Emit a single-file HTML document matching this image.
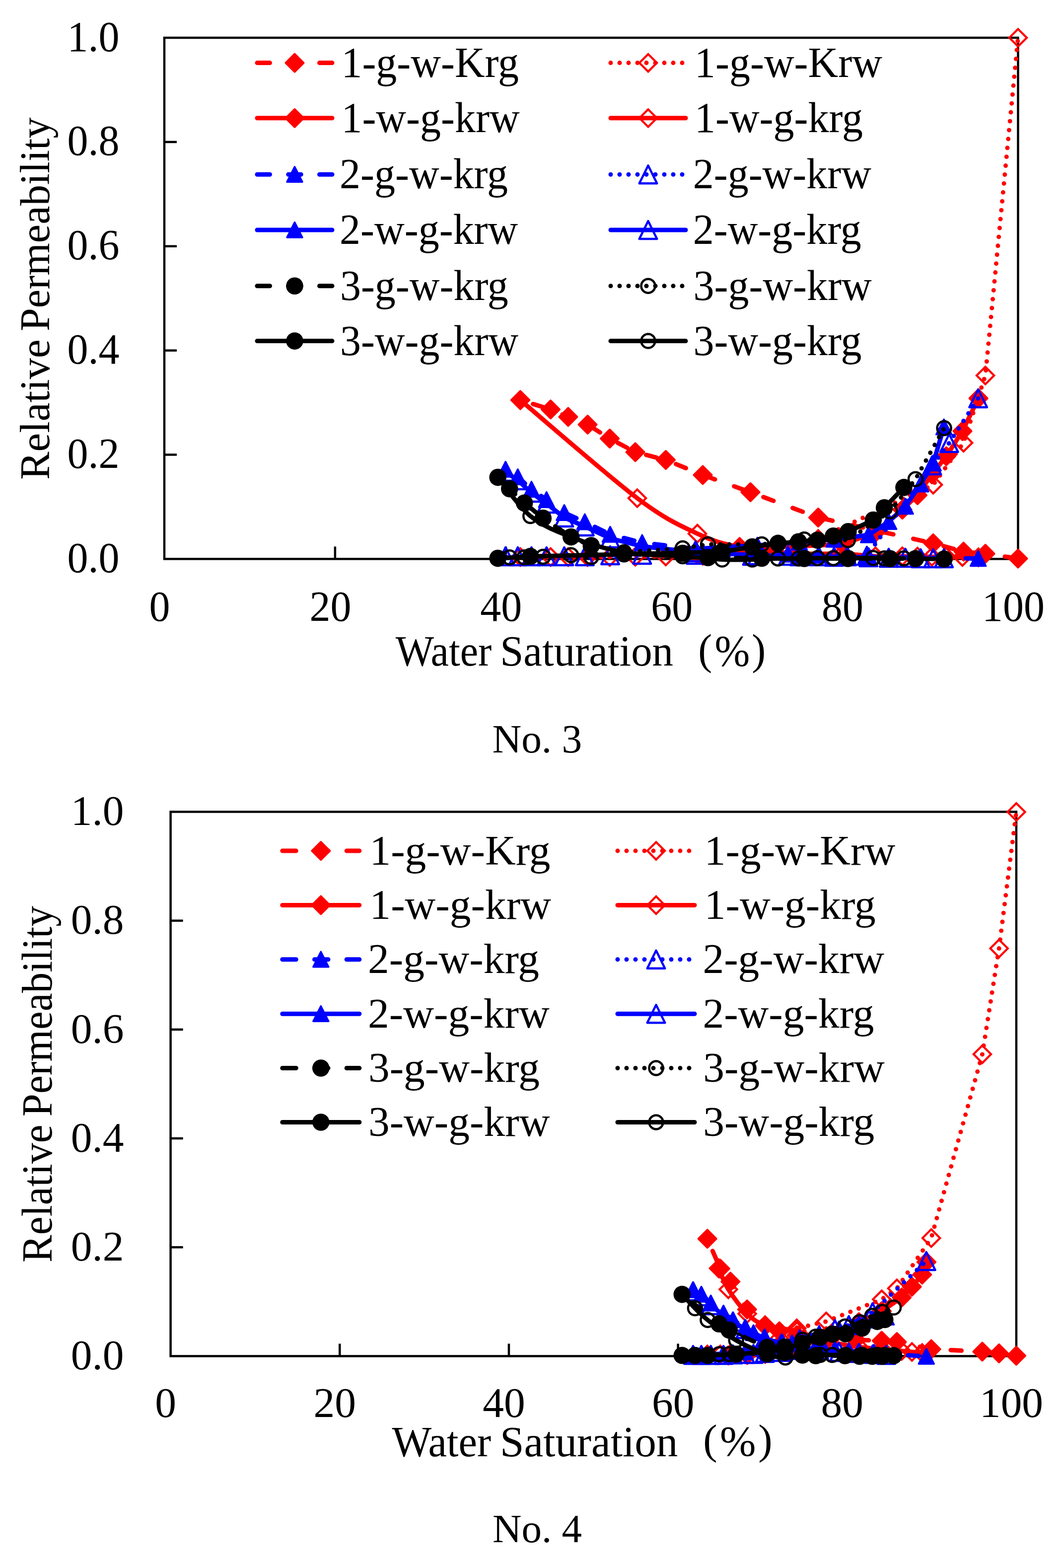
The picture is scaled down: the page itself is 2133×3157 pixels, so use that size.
<!DOCTYPE html><html><head><meta charset="utf-8"><style>html,body{margin:0;padding:0;background:#fff}svg{display:block}</style></head><body>
<svg width="2133" height="3157" viewBox="0 0 2133 3157" font-family="Liberation Serif, Times New Roman, serif">
<rect width="2133" height="3157" fill="#fff"/>
<rect x="331.00" y="76.00" width="1719.50" height="1049.40" fill="none" stroke="#000" stroke-width="4.50"/>
<path d="M331.00 915.52H356.00" stroke="#000" stroke-width="4.50"/>
<path d="M331.00 705.64H356.00" stroke="#000" stroke-width="4.50"/>
<path d="M331.00 495.76H356.00" stroke="#000" stroke-width="4.50"/>
<path d="M331.00 285.88H356.00" stroke="#000" stroke-width="4.50"/>
<path d="M674.90 1125.40V1100.40" stroke="#000" stroke-width="4.50"/>
<path d="M1018.80 1125.40V1100.40" stroke="#000" stroke-width="4.50"/>
<path d="M1362.70 1125.40V1100.40" stroke="#000" stroke-width="4.50"/>
<path d="M1706.60 1125.40V1100.40" stroke="#000" stroke-width="4.50"/>
<text transform="translate(240.50,102.60) scale(1.0000,1.0300)" font-size="84.00" text-anchor="end">1.0</text>
<text transform="translate(240.50,312.48) scale(1.0000,1.0300)" font-size="84.00" text-anchor="end">0.8</text>
<text transform="translate(240.50,522.36) scale(1.0000,1.0300)" font-size="84.00" text-anchor="end">0.6</text>
<text transform="translate(240.50,732.24) scale(1.0000,1.0300)" font-size="84.00" text-anchor="end">0.4</text>
<text transform="translate(240.50,942.12) scale(1.0000,1.0300)" font-size="84.00" text-anchor="end">0.2</text>
<text transform="translate(240.50,1152.00) scale(1.0000,1.0300)" font-size="84.00" text-anchor="end">0.0</text>
<text transform="translate(321.50,1250.00) scale(1.0000,1.0300)" font-size="84.00" text-anchor="middle">0</text>
<text transform="translate(665.40,1250.00) scale(1.0000,1.0300)" font-size="84.00" text-anchor="middle">20</text>
<text transform="translate(1009.30,1250.00) scale(1.0000,1.0300)" font-size="84.00" text-anchor="middle">40</text>
<text transform="translate(1353.20,1250.00) scale(1.0000,1.0300)" font-size="84.00" text-anchor="middle">60</text>
<text transform="translate(1697.10,1250.00) scale(1.0000,1.0300)" font-size="84.00" text-anchor="middle">80</text>
<text transform="translate(2041.00,1250.00) scale(1.0000,1.0300)" font-size="84.00" text-anchor="middle">100</text>
<text transform="translate(796.70,1339.60) scale(1.0000,1.0650)" font-size="82.00" text-anchor="start">Water</text>
<text transform="translate(1007.16,1339.60) scale(1.0000,1.0330)" font-size="84.90" text-anchor="start">Saturation</text>
<text transform="translate(1406.30,1336.60) scale(1.0000,1.0400)" font-size="84.00" text-anchor="start">(</text>
<text transform="translate(1439.40,1339.60) scale(1.0000,1.0400)" font-size="85.00" text-anchor="start">%</text>
<text transform="translate(1514.30,1336.60) scale(1.0000,1.0400)" font-size="84.00" text-anchor="start">)</text>
<text transform="translate(98.80,966.00) rotate(-90) scale(1.0000,1.0100)" font-size="84.80">Relative</text>
<text transform="translate(98.80,667.10) rotate(-90) scale(1.0000,1.0100)" font-size="84.30">Permeability</text>
<text transform="translate(991.40,1515.00) scale(1.0000,1.0000)" font-size="81.40" text-anchor="start">No. 3</text>
<path d="M518.0 126.6L669.0 126.6" stroke="#ff0000" stroke-width="9" stroke-linecap="round" stroke-dasharray="25.5 37.25"/>
<path d="M593.5 108.6l18.0 18.0l-18.0 18.0l-18.0 -18.0z" fill="#ff0000" stroke="#ff0000" stroke-width="4" stroke-linejoin="round"/>
<text transform="translate(687.40,154.60) scale(1.0000,1.0300)" font-size="84.00" text-anchor="start">1-g-w-Krg</text>
<path d="M1230.0 126.6L1381.0 126.6" stroke="#ff0000" stroke-width="9" stroke-linecap="round" stroke-dasharray="0 18"/>
<path d="M1305.5 109.0l17.6 17.6l-17.6 17.6l-17.6 -17.6z" fill="none" stroke="#ff0000" stroke-width="4.2" stroke-linejoin="miter"/>
<text transform="translate(1399.00,154.60) scale(1.0000,1.0300)" font-size="84.00" text-anchor="start">1-g-w-Krw</text>
<path d="M518.0 237.8L669.0 237.8" stroke="#ff0000" stroke-width="9" stroke-linecap="round"/>
<path d="M593.5 219.8l18.0 18.0l-18.0 18.0l-18.0 -18.0z" fill="#ff0000" stroke="#ff0000" stroke-width="4" stroke-linejoin="round"/>
<text transform="translate(687.40,265.80) scale(1.0000,1.0300)" font-size="84.00" text-anchor="start">1-w-g-krw</text>
<path d="M1230.0 237.8L1381.0 237.8" stroke="#ff0000" stroke-width="9" stroke-linecap="round"/>
<path d="M1305.5 220.2l17.6 17.6l-17.6 17.6l-17.6 -17.6z" fill="none" stroke="#ff0000" stroke-width="4.2" stroke-linejoin="miter"/>
<text transform="translate(1399.00,265.80) scale(1.0000,1.0300)" font-size="84.00" text-anchor="start">1-w-g-krg</text>
<path d="M518.0 351.3L669.0 351.3" stroke="#0000ff" stroke-width="9" stroke-linecap="round" stroke-dasharray="25.5 37.25"/>
<path d="M593.5 335.8L609.0 366.3L578.0 366.3z" fill="#0000ff" stroke="#0000ff" stroke-width="3.5" stroke-linejoin="round"/>
<text transform="translate(684.10,379.30) scale(1.0000,1.0300)" font-size="84.00" text-anchor="start">2-g-w-krg</text>
<path d="M1230.0 351.3L1381.0 351.3" stroke="#0000ff" stroke-width="9" stroke-linecap="round" stroke-dasharray="0 18"/>
<path d="M1305.5 333.3L1323.3 369.3L1287.7 369.3z" fill="none" stroke="#0000ff" stroke-width="4.4" stroke-linejoin="round"/>
<text transform="translate(1395.70,379.30) scale(1.0000,1.0300)" font-size="84.00" text-anchor="start">2-g-w-krw</text>
<path d="M518.0 463.0L669.0 463.0" stroke="#0000ff" stroke-width="9" stroke-linecap="round"/>
<path d="M593.5 447.5L609.0 478.0L578.0 478.0z" fill="#0000ff" stroke="#0000ff" stroke-width="3.5" stroke-linejoin="round"/>
<text transform="translate(684.10,491.00) scale(1.0000,1.0300)" font-size="84.00" text-anchor="start">2-w-g-krw</text>
<path d="M1230.0 463.0L1381.0 463.0" stroke="#0000ff" stroke-width="9" stroke-linecap="round"/>
<path d="M1305.5 445.0L1323.3 481.0L1287.7 481.0z" fill="none" stroke="#0000ff" stroke-width="4.4" stroke-linejoin="round"/>
<text transform="translate(1395.70,491.00) scale(1.0000,1.0300)" font-size="84.00" text-anchor="start">2-w-g-krg</text>
<path d="M518.0 575.8L669.0 575.8" stroke="#000000" stroke-width="9" stroke-linecap="round" stroke-dasharray="25.5 37.25"/>
<circle cx="593.5" cy="575.8" r="17.3" fill="#000000"/>
<text transform="translate(684.90,603.80) scale(1.0000,1.0300)" font-size="84.00" text-anchor="start">3-g-w-krg</text>
<path d="M1230.0 575.8L1381.0 575.8" stroke="#000000" stroke-width="9" stroke-linecap="round" stroke-dasharray="0 18"/>
<circle cx="1305.5" cy="575.8" r="14" fill="none" stroke="#000000" stroke-width="4.5"/>
<text transform="translate(1396.50,603.80) scale(1.0000,1.0300)" font-size="84.00" text-anchor="start">3-g-w-krw</text>
<path d="M518.0 686.6L669.0 686.6" stroke="#000000" stroke-width="9" stroke-linecap="round"/>
<circle cx="593.5" cy="686.6" r="17.3" fill="#000000"/>
<text transform="translate(684.90,714.60) scale(1.0000,1.0300)" font-size="84.00" text-anchor="start">3-w-g-krw</text>
<path d="M1230.0 686.6L1381.0 686.6" stroke="#000000" stroke-width="9" stroke-linecap="round"/>
<circle cx="1305.5" cy="686.6" r="14" fill="none" stroke="#000000" stroke-width="4.5"/>
<text transform="translate(1396.50,714.60) scale(1.0000,1.0300)" font-size="84.00" text-anchor="start">3-w-g-krg</text>
<path d="M1048.0 805.5 L1109.0 824.3 L1144.4 839.4 L1183.6 854.8 L1228.1 883.0 L1279.6 910.3 L1341.0 926.0 L1415.5 956.3 L1511.5 991.0 L1648.0 1042.0 L1879.6 1093.8 L1940.7 1110.6 L1984.7 1114.8 L2050.5 1124.6" fill="none" stroke="#ff0000" stroke-width="9" stroke-linecap="round" stroke-linejoin="round" stroke-dasharray="21.7 41.1" stroke-dashoffset="36"/>
<path d="M1048.0 787.5l18.0 18.0l-18.0 18.0l-18.0 -18.0z" fill="#ff0000" stroke="#ff0000" stroke-width="4" stroke-linejoin="round"/>
<path d="M1109.0 806.3l18.0 18.0l-18.0 18.0l-18.0 -18.0z" fill="#ff0000" stroke="#ff0000" stroke-width="4" stroke-linejoin="round"/>
<path d="M1144.4 821.4l18.0 18.0l-18.0 18.0l-18.0 -18.0z" fill="#ff0000" stroke="#ff0000" stroke-width="4" stroke-linejoin="round"/>
<path d="M1183.6 836.8l18.0 18.0l-18.0 18.0l-18.0 -18.0z" fill="#ff0000" stroke="#ff0000" stroke-width="4" stroke-linejoin="round"/>
<path d="M1228.1 865.0l18.0 18.0l-18.0 18.0l-18.0 -18.0z" fill="#ff0000" stroke="#ff0000" stroke-width="4" stroke-linejoin="round"/>
<path d="M1279.6 892.3l18.0 18.0l-18.0 18.0l-18.0 -18.0z" fill="#ff0000" stroke="#ff0000" stroke-width="4" stroke-linejoin="round"/>
<path d="M1341.0 908.0l18.0 18.0l-18.0 18.0l-18.0 -18.0z" fill="#ff0000" stroke="#ff0000" stroke-width="4" stroke-linejoin="round"/>
<path d="M1415.5 938.3l18.0 18.0l-18.0 18.0l-18.0 -18.0z" fill="#ff0000" stroke="#ff0000" stroke-width="4" stroke-linejoin="round"/>
<path d="M1511.5 973.0l18.0 18.0l-18.0 18.0l-18.0 -18.0z" fill="#ff0000" stroke="#ff0000" stroke-width="4" stroke-linejoin="round"/>
<path d="M1648.0 1024.0l18.0 18.0l-18.0 18.0l-18.0 -18.0z" fill="#ff0000" stroke="#ff0000" stroke-width="4" stroke-linejoin="round"/>
<path d="M1879.6 1075.8l18.0 18.0l-18.0 18.0l-18.0 -18.0z" fill="#ff0000" stroke="#ff0000" stroke-width="4" stroke-linejoin="round"/>
<path d="M1940.7 1092.6l18.0 18.0l-18.0 18.0l-18.0 -18.0z" fill="#ff0000" stroke="#ff0000" stroke-width="4" stroke-linejoin="round"/>
<path d="M1984.7 1096.8l18.0 18.0l-18.0 18.0l-18.0 -18.0z" fill="#ff0000" stroke="#ff0000" stroke-width="4" stroke-linejoin="round"/>
<path d="M2050.5 1106.6l18.0 18.0l-18.0 18.0l-18.0 -18.0z" fill="#ff0000" stroke="#ff0000" stroke-width="4" stroke-linejoin="round"/>
<path d="M1048.0 1121.5 L1109.0 1121.5 L1144.4 1121.5 L1183.6 1121.5 L1228.1 1121.5 L1279.6 1121.0 L1341.0 1120.5 L1415.5 1119.0 L1511.5 1112.0 L1648.0 1085.0 L1879.6 976.0 L1940.7 891.4 L1984.7 756.0 L2050.5 76.0" fill="none" stroke="#ff0000" stroke-width="9" stroke-linecap="round" stroke-linejoin="round" stroke-dasharray="0 18"/>
<path d="M1048.0 1103.9l17.6 17.6l-17.6 17.6l-17.6 -17.6z" fill="none" stroke="#ff0000" stroke-width="4.2" stroke-linejoin="miter"/>
<path d="M1109.0 1103.9l17.6 17.6l-17.6 17.6l-17.6 -17.6z" fill="none" stroke="#ff0000" stroke-width="4.2" stroke-linejoin="miter"/>
<path d="M1144.4 1103.9l17.6 17.6l-17.6 17.6l-17.6 -17.6z" fill="none" stroke="#ff0000" stroke-width="4.2" stroke-linejoin="miter"/>
<path d="M1183.6 1103.9l17.6 17.6l-17.6 17.6l-17.6 -17.6z" fill="none" stroke="#ff0000" stroke-width="4.2" stroke-linejoin="miter"/>
<path d="M1228.1 1103.9l17.6 17.6l-17.6 17.6l-17.6 -17.6z" fill="none" stroke="#ff0000" stroke-width="4.2" stroke-linejoin="miter"/>
<path d="M1279.6 1103.4l17.6 17.6l-17.6 17.6l-17.6 -17.6z" fill="none" stroke="#ff0000" stroke-width="4.2" stroke-linejoin="miter"/>
<path d="M1341.0 1102.9l17.6 17.6l-17.6 17.6l-17.6 -17.6z" fill="none" stroke="#ff0000" stroke-width="4.2" stroke-linejoin="miter"/>
<path d="M1415.5 1101.4l17.6 17.6l-17.6 17.6l-17.6 -17.6z" fill="none" stroke="#ff0000" stroke-width="4.2" stroke-linejoin="miter"/>
<path d="M1511.5 1094.4l17.6 17.6l-17.6 17.6l-17.6 -17.6z" fill="none" stroke="#ff0000" stroke-width="4.2" stroke-linejoin="miter"/>
<path d="M1648.0 1067.4l17.6 17.6l-17.6 17.6l-17.6 -17.6z" fill="none" stroke="#ff0000" stroke-width="4.2" stroke-linejoin="miter"/>
<path d="M1879.6 958.4l17.6 17.6l-17.6 17.6l-17.6 -17.6z" fill="none" stroke="#ff0000" stroke-width="4.2" stroke-linejoin="miter"/>
<path d="M1940.7 873.8l17.6 17.6l-17.6 17.6l-17.6 -17.6z" fill="none" stroke="#ff0000" stroke-width="4.2" stroke-linejoin="miter"/>
<path d="M1984.7 738.4l17.6 17.6l-17.6 17.6l-17.6 -17.6z" fill="none" stroke="#ff0000" stroke-width="4.2" stroke-linejoin="miter"/>
<path d="M2050.5 58.4l17.6 17.6l-17.6 17.6l-17.6 -17.6z" fill="none" stroke="#ff0000" stroke-width="4.2" stroke-linejoin="miter"/>
<path d="M1404.6 1116.0 L1489.7 1101.4 L1600.0 1100.0 L1697.0 1096.0 L1763.4 1072.0 L1817.5 1026.0 L1848.0 997.0 L1877.0 955.0 L1906.0 918.6 L1938.5 868.0 L1970.7 802.0" fill="none" stroke="#ff0000" stroke-width="9" stroke-linecap="round" stroke-linejoin="round"/>
<path d="M1404.6 1098.0l18.0 18.0l-18.0 18.0l-18.0 -18.0z" fill="#ff0000" stroke="#ff0000" stroke-width="4" stroke-linejoin="round"/>
<path d="M1489.7 1083.4l18.0 18.0l-18.0 18.0l-18.0 -18.0z" fill="#ff0000" stroke="#ff0000" stroke-width="4" stroke-linejoin="round"/>
<path d="M1600.0 1082.0l18.0 18.0l-18.0 18.0l-18.0 -18.0z" fill="#ff0000" stroke="#ff0000" stroke-width="4" stroke-linejoin="round"/>
<path d="M1697.0 1078.0l18.0 18.0l-18.0 18.0l-18.0 -18.0z" fill="#ff0000" stroke="#ff0000" stroke-width="4" stroke-linejoin="round"/>
<path d="M1763.4 1054.0l18.0 18.0l-18.0 18.0l-18.0 -18.0z" fill="#ff0000" stroke="#ff0000" stroke-width="4" stroke-linejoin="round"/>
<path d="M1817.5 1008.0l18.0 18.0l-18.0 18.0l-18.0 -18.0z" fill="#ff0000" stroke="#ff0000" stroke-width="4" stroke-linejoin="round"/>
<path d="M1848.0 979.0l18.0 18.0l-18.0 18.0l-18.0 -18.0z" fill="#ff0000" stroke="#ff0000" stroke-width="4" stroke-linejoin="round"/>
<path d="M1877.0 937.0l18.0 18.0l-18.0 18.0l-18.0 -18.0z" fill="#ff0000" stroke="#ff0000" stroke-width="4" stroke-linejoin="round"/>
<path d="M1906.0 900.6l18.0 18.0l-18.0 18.0l-18.0 -18.0z" fill="#ff0000" stroke="#ff0000" stroke-width="4" stroke-linejoin="round"/>
<path d="M1938.5 850.0l18.0 18.0l-18.0 18.0l-18.0 -18.0z" fill="#ff0000" stroke="#ff0000" stroke-width="4" stroke-linejoin="round"/>
<path d="M1970.7 784.0l18.0 18.0l-18.0 18.0l-18.0 -18.0z" fill="#ff0000" stroke="#ff0000" stroke-width="4" stroke-linejoin="round"/>
<path d="M1048.0 805.5 C1087.2 838.4 1224.1 958.2 1283.5 1003.0 C1342.9 1047.8 1370.2 1058.0 1404.6 1074.4 C1439.0 1090.8 1457.1 1094.8 1489.7 1101.4 C1522.3 1108.0 1565.5 1111.7 1600.0 1114.0 C1634.5 1116.3 1669.8 1114.0 1697.0 1115.0 C1724.2 1116.0 1743.3 1119.2 1763.4 1120.0 C1783.5 1120.8 1803.4 1119.9 1817.5 1120.0 C1831.6 1120.1 1838.1 1120.3 1848.0 1120.5 C1857.9 1120.7 1867.3 1120.9 1877.0 1121.0 C1886.7 1121.1 1895.8 1120.9 1906.0 1121.0 C1916.2 1121.1 1927.7 1121.3 1938.5 1121.5 C1949.3 1121.7 1965.3 1121.9 1970.7 1122.0" fill="none" stroke="#ff0000" stroke-width="9" stroke-linecap="round" stroke-linejoin="round"/>
<path d="M1048.0 787.9l17.6 17.6l-17.6 17.6l-17.6 -17.6z" fill="none" stroke="#ff0000" stroke-width="4.2" stroke-linejoin="miter"/>
<path d="M1283.5 985.4l17.6 17.6l-17.6 17.6l-17.6 -17.6z" fill="none" stroke="#ff0000" stroke-width="4.2" stroke-linejoin="miter"/>
<path d="M1404.6 1056.8l17.6 17.6l-17.6 17.6l-17.6 -17.6z" fill="none" stroke="#ff0000" stroke-width="4.2" stroke-linejoin="miter"/>
<path d="M1489.7 1083.8l17.6 17.6l-17.6 17.6l-17.6 -17.6z" fill="none" stroke="#ff0000" stroke-width="4.2" stroke-linejoin="miter"/>
<path d="M1600.0 1096.4l17.6 17.6l-17.6 17.6l-17.6 -17.6z" fill="none" stroke="#ff0000" stroke-width="4.2" stroke-linejoin="miter"/>
<path d="M1697.0 1097.4l17.6 17.6l-17.6 17.6l-17.6 -17.6z" fill="none" stroke="#ff0000" stroke-width="4.2" stroke-linejoin="miter"/>
<path d="M1763.4 1102.4l17.6 17.6l-17.6 17.6l-17.6 -17.6z" fill="none" stroke="#ff0000" stroke-width="4.2" stroke-linejoin="miter"/>
<path d="M1817.5 1102.4l17.6 17.6l-17.6 17.6l-17.6 -17.6z" fill="none" stroke="#ff0000" stroke-width="4.2" stroke-linejoin="miter"/>
<path d="M1848.0 1102.9l17.6 17.6l-17.6 17.6l-17.6 -17.6z" fill="none" stroke="#ff0000" stroke-width="4.2" stroke-linejoin="miter"/>
<path d="M1877.0 1103.4l17.6 17.6l-17.6 17.6l-17.6 -17.6z" fill="none" stroke="#ff0000" stroke-width="4.2" stroke-linejoin="miter"/>
<path d="M1906.0 1103.4l17.6 17.6l-17.6 17.6l-17.6 -17.6z" fill="none" stroke="#ff0000" stroke-width="4.2" stroke-linejoin="miter"/>
<path d="M1938.5 1103.9l17.6 17.6l-17.6 17.6l-17.6 -17.6z" fill="none" stroke="#ff0000" stroke-width="4.2" stroke-linejoin="miter"/>
<path d="M1970.7 1104.4l17.6 17.6l-17.6 17.6l-17.6 -17.6z" fill="none" stroke="#ff0000" stroke-width="4.2" stroke-linejoin="miter"/>
<path d="M1018.3 945.0 L1042.9 960.3 L1070.5 985.2 L1100.8 1006.2 L1136.5 1032.3 L1177.9 1050.8 L1229.0 1076.0 L1293.4 1092.7 L1401.0 1105.0 L1514.6 1112.0 L1587.0 1116.0 L1649.0 1118.0 L1706.5 1120.0 L1746.0 1121.0 L1970.2 1124.6" fill="none" stroke="#0000ff" stroke-width="9" stroke-linecap="round" stroke-linejoin="round" stroke-dasharray="21.7 41.1" stroke-dashoffset="36"/>
<path d="M1018.3 929.5L1033.8 960.0L1002.8 960.0z" fill="#0000ff" stroke="#0000ff" stroke-width="3.5" stroke-linejoin="round"/>
<path d="M1042.9 944.8L1058.4 975.3L1027.4 975.3z" fill="#0000ff" stroke="#0000ff" stroke-width="3.5" stroke-linejoin="round"/>
<path d="M1070.5 969.7L1086.0 1000.2L1055.0 1000.2z" fill="#0000ff" stroke="#0000ff" stroke-width="3.5" stroke-linejoin="round"/>
<path d="M1100.8 990.7L1116.3 1021.2L1085.3 1021.2z" fill="#0000ff" stroke="#0000ff" stroke-width="3.5" stroke-linejoin="round"/>
<path d="M1136.5 1016.8L1152.0 1047.3L1121.0 1047.3z" fill="#0000ff" stroke="#0000ff" stroke-width="3.5" stroke-linejoin="round"/>
<path d="M1177.9 1035.3L1193.4 1065.8L1162.4 1065.8z" fill="#0000ff" stroke="#0000ff" stroke-width="3.5" stroke-linejoin="round"/>
<path d="M1229.0 1060.5L1244.5 1091.0L1213.5 1091.0z" fill="#0000ff" stroke="#0000ff" stroke-width="3.5" stroke-linejoin="round"/>
<path d="M1293.4 1077.2L1308.9 1107.7L1277.9 1107.7z" fill="#0000ff" stroke="#0000ff" stroke-width="3.5" stroke-linejoin="round"/>
<path d="M1401.0 1089.5L1416.5 1120.0L1385.5 1120.0z" fill="#0000ff" stroke="#0000ff" stroke-width="3.5" stroke-linejoin="round"/>
<path d="M1514.6 1096.5L1530.1 1127.0L1499.1 1127.0z" fill="#0000ff" stroke="#0000ff" stroke-width="3.5" stroke-linejoin="round"/>
<path d="M1587.0 1100.5L1602.5 1131.0L1571.5 1131.0z" fill="#0000ff" stroke="#0000ff" stroke-width="3.5" stroke-linejoin="round"/>
<path d="M1649.0 1102.5L1664.5 1133.0L1633.5 1133.0z" fill="#0000ff" stroke="#0000ff" stroke-width="3.5" stroke-linejoin="round"/>
<path d="M1706.5 1104.5L1722.0 1135.0L1691.0 1135.0z" fill="#0000ff" stroke="#0000ff" stroke-width="3.5" stroke-linejoin="round"/>
<path d="M1746.0 1105.5L1761.5 1136.0L1730.5 1136.0z" fill="#0000ff" stroke="#0000ff" stroke-width="3.5" stroke-linejoin="round"/>
<path d="M1970.2 1109.1L1985.7 1139.6L1954.7 1139.6z" fill="#0000ff" stroke="#0000ff" stroke-width="3.5" stroke-linejoin="round"/>
<path d="M1018.3 1120.0 L1042.9 1120.0 L1070.5 1120.0 L1100.8 1120.0 L1136.5 1120.0 L1177.9 1120.0 L1229.0 1118.0 L1293.4 1117.0 L1401.0 1117.0 L1514.6 1119.0 L1587.0 1119.0 L1649.0 1120.0 L1706.5 1120.0 L1746.0 1119.0 L1877.4 937.0 L1911.8 892.0 L1970.2 802.0" fill="none" stroke="#0000ff" stroke-width="9" stroke-linecap="round" stroke-linejoin="round" stroke-dasharray="0 18"/>
<path d="M1018.3 1102.0L1036.1 1138.0L1000.5 1138.0z" fill="none" stroke="#0000ff" stroke-width="4.4" stroke-linejoin="round"/>
<path d="M1042.9 1102.0L1060.7 1138.0L1025.1 1138.0z" fill="none" stroke="#0000ff" stroke-width="4.4" stroke-linejoin="round"/>
<path d="M1070.5 1102.0L1088.3 1138.0L1052.7 1138.0z" fill="none" stroke="#0000ff" stroke-width="4.4" stroke-linejoin="round"/>
<path d="M1100.8 1102.0L1118.6 1138.0L1083.0 1138.0z" fill="none" stroke="#0000ff" stroke-width="4.4" stroke-linejoin="round"/>
<path d="M1136.5 1102.0L1154.3 1138.0L1118.7 1138.0z" fill="none" stroke="#0000ff" stroke-width="4.4" stroke-linejoin="round"/>
<path d="M1177.9 1102.0L1195.7 1138.0L1160.1 1138.0z" fill="none" stroke="#0000ff" stroke-width="4.4" stroke-linejoin="round"/>
<path d="M1229.0 1100.0L1246.8 1136.0L1211.2 1136.0z" fill="none" stroke="#0000ff" stroke-width="4.4" stroke-linejoin="round"/>
<path d="M1293.4 1099.0L1311.2 1135.0L1275.6 1135.0z" fill="none" stroke="#0000ff" stroke-width="4.4" stroke-linejoin="round"/>
<path d="M1401.0 1099.0L1418.8 1135.0L1383.2 1135.0z" fill="none" stroke="#0000ff" stroke-width="4.4" stroke-linejoin="round"/>
<path d="M1514.6 1101.0L1532.4 1137.0L1496.8 1137.0z" fill="none" stroke="#0000ff" stroke-width="4.4" stroke-linejoin="round"/>
<path d="M1587.0 1101.0L1604.8 1137.0L1569.2 1137.0z" fill="none" stroke="#0000ff" stroke-width="4.4" stroke-linejoin="round"/>
<path d="M1649.0 1102.0L1666.8 1138.0L1631.2 1138.0z" fill="none" stroke="#0000ff" stroke-width="4.4" stroke-linejoin="round"/>
<path d="M1706.5 1102.0L1724.3 1138.0L1688.7 1138.0z" fill="none" stroke="#0000ff" stroke-width="4.4" stroke-linejoin="round"/>
<path d="M1746.0 1101.0L1763.8 1137.0L1728.2 1137.0z" fill="none" stroke="#0000ff" stroke-width="4.4" stroke-linejoin="round"/>
<path d="M1877.4 919.0L1895.2 955.0L1859.6 955.0z" fill="none" stroke="#0000ff" stroke-width="4.4" stroke-linejoin="round"/>
<path d="M1911.8 874.0L1929.6 910.0L1894.0 910.0z" fill="none" stroke="#0000ff" stroke-width="4.4" stroke-linejoin="round"/>
<path d="M1970.2 784.0L1988.0 820.0L1952.4 820.0z" fill="none" stroke="#0000ff" stroke-width="4.4" stroke-linejoin="round"/>
<path d="M1401.0 1105.0 L1525.4 1098.0 L1610.0 1092.0 L1680.0 1086.0 L1749.3 1077.0 L1790.0 1050.3 L1823.6 1019.5 L1854.4 974.7 L1879.6 932.6 L1901.2 859.8" fill="none" stroke="#0000ff" stroke-width="9" stroke-linecap="round" stroke-linejoin="round"/>
<path d="M1401.0 1089.5L1416.5 1120.0L1385.5 1120.0z" fill="#0000ff" stroke="#0000ff" stroke-width="3.5" stroke-linejoin="round"/>
<path d="M1525.4 1082.5L1540.9 1113.0L1509.9 1113.0z" fill="#0000ff" stroke="#0000ff" stroke-width="3.5" stroke-linejoin="round"/>
<path d="M1610.0 1076.5L1625.5 1107.0L1594.5 1107.0z" fill="#0000ff" stroke="#0000ff" stroke-width="3.5" stroke-linejoin="round"/>
<path d="M1680.0 1070.5L1695.5 1101.0L1664.5 1101.0z" fill="#0000ff" stroke="#0000ff" stroke-width="3.5" stroke-linejoin="round"/>
<path d="M1749.3 1061.5L1764.8 1092.0L1733.8 1092.0z" fill="#0000ff" stroke="#0000ff" stroke-width="3.5" stroke-linejoin="round"/>
<path d="M1790.0 1034.8L1805.5 1065.3L1774.5 1065.3z" fill="#0000ff" stroke="#0000ff" stroke-width="3.5" stroke-linejoin="round"/>
<path d="M1823.6 1004.0L1839.1 1034.5L1808.1 1034.5z" fill="#0000ff" stroke="#0000ff" stroke-width="3.5" stroke-linejoin="round"/>
<path d="M1854.4 959.2L1869.9 989.7L1838.9 989.7z" fill="#0000ff" stroke="#0000ff" stroke-width="3.5" stroke-linejoin="round"/>
<path d="M1879.6 917.1L1895.1 947.6L1864.1 947.6z" fill="#0000ff" stroke="#0000ff" stroke-width="3.5" stroke-linejoin="round"/>
<path d="M1901.2 844.3L1916.7 874.8L1885.7 874.8z" fill="#0000ff" stroke="#0000ff" stroke-width="3.5" stroke-linejoin="round"/>
<path d="M1018.3 950.0 L1042.9 967.0 L1070.5 992.0 L1100.8 1014.0 L1136.5 1042.0 L1177.9 1060.0 L1229.0 1084.0 L1293.4 1100.0 L1401.0 1112.0 L1525.4 1118.0 L1610.0 1120.0 L1680.0 1121.0 L1749.3 1122.0 L1790.0 1123.0 L1823.6 1123.0 L1854.4 1124.0 L1879.6 1124.0 L1901.2 1124.0" fill="none" stroke="#0000ff" stroke-width="9" stroke-linecap="round" stroke-linejoin="round"/>
<path d="M1018.3 932.0L1036.1 968.0L1000.5 968.0z" fill="none" stroke="#0000ff" stroke-width="4.4" stroke-linejoin="round"/>
<path d="M1042.9 949.0L1060.7 985.0L1025.1 985.0z" fill="none" stroke="#0000ff" stroke-width="4.4" stroke-linejoin="round"/>
<path d="M1070.5 974.0L1088.3 1010.0L1052.7 1010.0z" fill="none" stroke="#0000ff" stroke-width="4.4" stroke-linejoin="round"/>
<path d="M1100.8 996.0L1118.6 1032.0L1083.0 1032.0z" fill="none" stroke="#0000ff" stroke-width="4.4" stroke-linejoin="round"/>
<path d="M1136.5 1024.0L1154.3 1060.0L1118.7 1060.0z" fill="none" stroke="#0000ff" stroke-width="4.4" stroke-linejoin="round"/>
<path d="M1177.9 1042.0L1195.7 1078.0L1160.1 1078.0z" fill="none" stroke="#0000ff" stroke-width="4.4" stroke-linejoin="round"/>
<path d="M1229.0 1066.0L1246.8 1102.0L1211.2 1102.0z" fill="none" stroke="#0000ff" stroke-width="4.4" stroke-linejoin="round"/>
<path d="M1293.4 1082.0L1311.2 1118.0L1275.6 1118.0z" fill="none" stroke="#0000ff" stroke-width="4.4" stroke-linejoin="round"/>
<path d="M1401.0 1094.0L1418.8 1130.0L1383.2 1130.0z" fill="none" stroke="#0000ff" stroke-width="4.4" stroke-linejoin="round"/>
<path d="M1525.4 1100.0L1543.2 1136.0L1507.6 1136.0z" fill="none" stroke="#0000ff" stroke-width="4.4" stroke-linejoin="round"/>
<path d="M1610.0 1102.0L1627.8 1138.0L1592.2 1138.0z" fill="none" stroke="#0000ff" stroke-width="4.4" stroke-linejoin="round"/>
<path d="M1680.0 1103.0L1697.8 1139.0L1662.2 1139.0z" fill="none" stroke="#0000ff" stroke-width="4.4" stroke-linejoin="round"/>
<path d="M1749.3 1104.0L1767.1 1140.0L1731.5 1140.0z" fill="none" stroke="#0000ff" stroke-width="4.4" stroke-linejoin="round"/>
<path d="M1790.0 1105.0L1807.8 1141.0L1772.2 1141.0z" fill="none" stroke="#0000ff" stroke-width="4.4" stroke-linejoin="round"/>
<path d="M1823.6 1105.0L1841.4 1141.0L1805.8 1141.0z" fill="none" stroke="#0000ff" stroke-width="4.4" stroke-linejoin="round"/>
<path d="M1854.4 1106.0L1872.2 1142.0L1836.6 1142.0z" fill="none" stroke="#0000ff" stroke-width="4.4" stroke-linejoin="round"/>
<path d="M1879.6 1106.0L1897.4 1142.0L1861.8 1142.0z" fill="none" stroke="#0000ff" stroke-width="4.4" stroke-linejoin="round"/>
<path d="M1901.2 1106.0L1919.0 1142.0L1883.4 1142.0z" fill="none" stroke="#0000ff" stroke-width="4.4" stroke-linejoin="round"/>
<path d="M1002.7 961.1 L1026.3 984.1 L1056.2 1012.7 L1093.8 1043.3 L1150.2 1081.1 L1190.8 1098.6 L1256.8 1115.2 L1374.9 1114.0 L1426.0 1122.8 L1534.3 1124.0 L1619.9 1124.5 L1707.8 1124.5 L1792.5 1124.8 L1844.0 1124.8 L1901.6 1125.5" fill="none" stroke="#000000" stroke-width="9" stroke-linecap="round" stroke-linejoin="round" stroke-dasharray="21.7 41.1" stroke-dashoffset="36"/>
<circle cx="1002.7" cy="961.1" r="17.3" fill="#000000"/>
<circle cx="1026.3" cy="984.1" r="17.3" fill="#000000"/>
<circle cx="1056.2" cy="1012.7" r="17.3" fill="#000000"/>
<circle cx="1093.8" cy="1043.3" r="17.3" fill="#000000"/>
<circle cx="1150.2" cy="1081.1" r="17.3" fill="#000000"/>
<circle cx="1190.8" cy="1098.6" r="17.3" fill="#000000"/>
<circle cx="1256.8" cy="1115.2" r="17.3" fill="#000000"/>
<circle cx="1374.9" cy="1114.0" r="17.3" fill="#000000"/>
<circle cx="1426.0" cy="1122.8" r="17.3" fill="#000000"/>
<circle cx="1534.3" cy="1124.0" r="17.3" fill="#000000"/>
<circle cx="1619.9" cy="1124.5" r="17.3" fill="#000000"/>
<circle cx="1707.8" cy="1124.5" r="17.3" fill="#000000"/>
<circle cx="1792.5" cy="1124.8" r="17.3" fill="#000000"/>
<circle cx="1844.0" cy="1124.8" r="17.3" fill="#000000"/>
<circle cx="1901.6" cy="1125.5" r="17.3" fill="#000000"/>
<path d="M1002.7 1124.0 L1026.3 1122.2 L1056.2 1122.2 L1093.8 1121.0 L1150.2 1117.8 L1190.8 1121.5 L1256.8 1112.0 L1374.9 1104.0 L1426.0 1096.0 L1534.3 1096.0 L1619.9 1086.2 L1707.8 1087.5 L1792.5 1029.4 L1844.0 964.8 L1901.6 862.0" fill="none" stroke="#000000" stroke-width="9" stroke-linecap="round" stroke-linejoin="round" stroke-dasharray="0 18"/>
<circle cx="1002.7" cy="1124.0" r="14" fill="none" stroke="#000000" stroke-width="4.5"/>
<circle cx="1026.3" cy="1122.2" r="14" fill="none" stroke="#000000" stroke-width="4.5"/>
<circle cx="1056.2" cy="1122.2" r="14" fill="none" stroke="#000000" stroke-width="4.5"/>
<circle cx="1093.8" cy="1121.0" r="14" fill="none" stroke="#000000" stroke-width="4.5"/>
<circle cx="1150.2" cy="1117.8" r="14" fill="none" stroke="#000000" stroke-width="4.5"/>
<circle cx="1190.8" cy="1121.5" r="14" fill="none" stroke="#000000" stroke-width="4.5"/>
<circle cx="1256.8" cy="1112.0" r="14" fill="none" stroke="#000000" stroke-width="4.5"/>
<circle cx="1374.9" cy="1104.0" r="14" fill="none" stroke="#000000" stroke-width="4.5"/>
<circle cx="1426.0" cy="1096.0" r="14" fill="none" stroke="#000000" stroke-width="4.5"/>
<circle cx="1534.3" cy="1096.0" r="14" fill="none" stroke="#000000" stroke-width="4.5"/>
<circle cx="1619.9" cy="1086.2" r="14" fill="none" stroke="#000000" stroke-width="4.5"/>
<circle cx="1707.8" cy="1087.5" r="14" fill="none" stroke="#000000" stroke-width="4.5"/>
<circle cx="1792.5" cy="1029.4" r="14" fill="none" stroke="#000000" stroke-width="4.5"/>
<circle cx="1844.0" cy="964.8" r="14" fill="none" stroke="#000000" stroke-width="4.5"/>
<circle cx="1901.6" cy="862.0" r="14" fill="none" stroke="#000000" stroke-width="4.5"/>
<path d="M1002.7 1124.1 L1068.3 1120.3 L1454.5 1111.0 L1515.2 1101.1 L1567.0 1093.9 L1608.4 1090.7 L1646.6 1087.5 L1678.5 1079.2 L1708.4 1070.3 L1758.9 1047.1 L1781.2 1022.3 L1820.5 981.4" fill="none" stroke="#000000" stroke-width="9" stroke-linecap="round" stroke-linejoin="round"/>
<circle cx="1002.7" cy="1124.1" r="17.3" fill="#000000"/>
<circle cx="1068.3" cy="1120.3" r="17.3" fill="#000000"/>
<circle cx="1454.5" cy="1111.0" r="17.3" fill="#000000"/>
<circle cx="1515.2" cy="1101.1" r="17.3" fill="#000000"/>
<circle cx="1567.0" cy="1093.9" r="17.3" fill="#000000"/>
<circle cx="1608.4" cy="1090.7" r="17.3" fill="#000000"/>
<circle cx="1646.6" cy="1087.5" r="17.3" fill="#000000"/>
<circle cx="1678.5" cy="1079.2" r="17.3" fill="#000000"/>
<circle cx="1708.4" cy="1070.3" r="17.3" fill="#000000"/>
<circle cx="1758.9" cy="1047.1" r="17.3" fill="#000000"/>
<circle cx="1781.2" cy="1022.3" r="17.3" fill="#000000"/>
<circle cx="1820.5" cy="981.4" r="17.3" fill="#000000"/>
<path d="M1002.7 961.1 C1013.6 974.1 1043.7 1019.0 1068.3 1039.0 C1092.9 1059.0 1118.8 1068.9 1150.2 1081.1 C1181.6 1093.3 1219.3 1105.5 1256.8 1112.0 C1294.2 1118.5 1342.0 1117.6 1374.9 1120.0 C1407.9 1122.4 1431.1 1125.5 1454.5 1126.6 C1477.9 1127.7 1496.5 1126.9 1515.2 1126.6 C1534.0 1126.2 1551.5 1124.8 1567.0 1124.5 C1582.5 1124.2 1595.1 1124.6 1608.4 1124.5 C1621.7 1124.4 1634.9 1123.9 1646.6 1123.8 C1658.3 1123.7 1668.2 1123.8 1678.5 1123.8 C1688.8 1123.8 1695.0 1123.8 1708.4 1123.8 C1721.8 1123.8 1746.8 1123.5 1758.9 1123.6 C1771.0 1123.7 1770.9 1124.1 1781.2 1124.2 C1791.5 1124.3 1814.0 1124.2 1820.5 1124.2" fill="none" stroke="#000000" stroke-width="9" stroke-linecap="round" stroke-linejoin="round"/>
<circle cx="1002.7" cy="961.1" r="14" fill="none" stroke="#000000" stroke-width="4.5"/>
<circle cx="1068.3" cy="1039.0" r="14" fill="none" stroke="#000000" stroke-width="4.5"/>
<circle cx="1150.2" cy="1081.1" r="14" fill="none" stroke="#000000" stroke-width="4.5"/>
<circle cx="1256.8" cy="1112.0" r="14" fill="none" stroke="#000000" stroke-width="4.5"/>
<circle cx="1374.9" cy="1120.0" r="14" fill="none" stroke="#000000" stroke-width="4.5"/>
<circle cx="1454.5" cy="1126.6" r="14" fill="none" stroke="#000000" stroke-width="4.5"/>
<circle cx="1515.2" cy="1126.6" r="14" fill="none" stroke="#000000" stroke-width="4.5"/>
<circle cx="1567.0" cy="1124.5" r="14" fill="none" stroke="#000000" stroke-width="4.5"/>
<circle cx="1608.4" cy="1124.5" r="14" fill="none" stroke="#000000" stroke-width="4.5"/>
<circle cx="1646.6" cy="1123.8" r="14" fill="none" stroke="#000000" stroke-width="4.5"/>
<circle cx="1678.5" cy="1123.8" r="14" fill="none" stroke="#000000" stroke-width="4.5"/>
<circle cx="1708.4" cy="1123.8" r="14" fill="none" stroke="#000000" stroke-width="4.5"/>
<circle cx="1758.9" cy="1123.6" r="14" fill="none" stroke="#000000" stroke-width="4.5"/>
<circle cx="1781.2" cy="1124.2" r="14" fill="none" stroke="#000000" stroke-width="4.5"/>
<circle cx="1820.5" cy="1124.2" r="14" fill="none" stroke="#000000" stroke-width="4.5"/>
<rect x="343.60" y="1634.50" width="1703.40" height="1095.90" fill="none" stroke="#000" stroke-width="4.50"/>
<path d="M343.60 2511.22H368.60" stroke="#000" stroke-width="4.50"/>
<path d="M343.60 2292.04H368.60" stroke="#000" stroke-width="4.50"/>
<path d="M343.60 2072.86H368.60" stroke="#000" stroke-width="4.50"/>
<path d="M343.60 1853.68H368.60" stroke="#000" stroke-width="4.50"/>
<path d="M684.28 2730.40V2705.40" stroke="#000" stroke-width="4.50"/>
<path d="M1024.96 2730.40V2705.40" stroke="#000" stroke-width="4.50"/>
<path d="M1365.64 2730.40V2705.40" stroke="#000" stroke-width="4.50"/>
<path d="M1706.32 2730.40V2705.40" stroke="#000" stroke-width="4.50"/>
<text transform="translate(249.50,1661.30) scale(1.0000,0.9950)" font-size="85.50" text-anchor="end">1.0</text>
<text transform="translate(249.50,1880.48) scale(1.0000,0.9950)" font-size="85.50" text-anchor="end">0.8</text>
<text transform="translate(249.50,2099.66) scale(1.0000,0.9950)" font-size="85.50" text-anchor="end">0.6</text>
<text transform="translate(249.50,2318.84) scale(1.0000,0.9950)" font-size="85.50" text-anchor="end">0.4</text>
<text transform="translate(249.50,2538.02) scale(1.0000,0.9950)" font-size="85.50" text-anchor="end">0.2</text>
<text transform="translate(249.50,2757.20) scale(1.0000,0.9950)" font-size="85.50" text-anchor="end">0.0</text>
<text transform="translate(333.60,2853.00) scale(1.0000,0.9950)" font-size="85.50" text-anchor="middle">0</text>
<text transform="translate(674.28,2853.00) scale(1.0000,0.9950)" font-size="85.50" text-anchor="middle">20</text>
<text transform="translate(1014.96,2853.00) scale(1.0000,0.9950)" font-size="85.50" text-anchor="middle">40</text>
<text transform="translate(1355.64,2853.00) scale(1.0000,0.9950)" font-size="85.50" text-anchor="middle">60</text>
<text transform="translate(1696.32,2853.00) scale(1.0000,0.9950)" font-size="85.50" text-anchor="middle">80</text>
<text transform="translate(2037.00,2853.00) scale(1.0000,0.9950)" font-size="85.50" text-anchor="middle">100</text>
<text transform="translate(789.60,2931.70) scale(1.0000,1.0150)" font-size="84.50" text-anchor="start">Water</text>
<text transform="translate(1007.00,2931.70) scale(1.0000,0.9880)" font-size="87.20" text-anchor="start">Saturation</text>
<text transform="translate(1416.20,2926.70) scale(1.0000,1.0000)" font-size="85.30" text-anchor="start">(</text>
<text transform="translate(1450.00,2930.70) scale(1.0000,1.0000)" font-size="87.00" text-anchor="start">%</text>
<text transform="translate(1527.20,2926.70) scale(1.0000,1.0000)" font-size="85.30" text-anchor="start">)</text>
<text transform="translate(103.90,2541.90) rotate(-90) scale(1.0000,1.0530)" font-size="83.30">Relative</text>
<text transform="translate(103.90,2248.20) rotate(-90) scale(1.0000,1.0530)" font-size="83.00">Permeability</text>
<text transform="translate(992.00,3105.00) scale(1.0000,1.0000)" font-size="81.00" text-anchor="start">No. 4</text>
<path d="M568.8 1713.1L723.8 1713.1" stroke="#ff0000" stroke-width="9" stroke-linecap="round" stroke-dasharray="27.5 37.2"/>
<path d="M646.3 1695.1l18.0 18.0l-18.0 18.0l-18.0 -18.0z" fill="#ff0000" stroke="#ff0000" stroke-width="4" stroke-linejoin="round"/>
<text transform="translate(744.40,1740.60) scale(1.0000,0.9950)" font-size="85.50" text-anchor="start">1-g-w-Krg</text>
<path d="M1244.0 1713.1L1399.0 1713.1" stroke="#ff0000" stroke-width="9" stroke-linecap="round" stroke-dasharray="0 18"/>
<path d="M1321.5 1695.5l17.6 17.6l-17.6 17.6l-17.6 -17.6z" fill="none" stroke="#ff0000" stroke-width="4.2" stroke-linejoin="miter"/>
<text transform="translate(1418.70,1740.60) scale(1.0000,0.9950)" font-size="85.50" text-anchor="start">1-g-w-Krw</text>
<path d="M568.8 1822.4L723.8 1822.4" stroke="#ff0000" stroke-width="9" stroke-linecap="round"/>
<path d="M646.3 1804.4l18.0 18.0l-18.0 18.0l-18.0 -18.0z" fill="#ff0000" stroke="#ff0000" stroke-width="4" stroke-linejoin="round"/>
<text transform="translate(744.40,1849.90) scale(1.0000,0.9950)" font-size="85.50" text-anchor="start">1-w-g-krw</text>
<path d="M1244.0 1822.4L1399.0 1822.4" stroke="#ff0000" stroke-width="9" stroke-linecap="round"/>
<path d="M1321.5 1804.8l17.6 17.6l-17.6 17.6l-17.6 -17.6z" fill="none" stroke="#ff0000" stroke-width="4.2" stroke-linejoin="miter"/>
<text transform="translate(1418.70,1849.90) scale(1.0000,0.9950)" font-size="85.50" text-anchor="start">1-w-g-krg</text>
<path d="M568.8 1931.7L723.8 1931.7" stroke="#0000ff" stroke-width="9" stroke-linecap="round" stroke-dasharray="27.5 37.2"/>
<path d="M646.3 1916.2L661.8 1946.7L630.8 1946.7z" fill="#0000ff" stroke="#0000ff" stroke-width="3.5" stroke-linejoin="round"/>
<text transform="translate(741.10,1959.20) scale(1.0000,0.9950)" font-size="85.50" text-anchor="start">2-g-w-krg</text>
<path d="M1244.0 1931.7L1399.0 1931.7" stroke="#0000ff" stroke-width="9" stroke-linecap="round" stroke-dasharray="0 18"/>
<path d="M1321.5 1913.7L1339.3 1949.7L1303.7 1949.7z" fill="none" stroke="#0000ff" stroke-width="4.4" stroke-linejoin="round"/>
<text transform="translate(1415.40,1959.20) scale(1.0000,0.9950)" font-size="85.50" text-anchor="start">2-g-w-krw</text>
<path d="M568.8 2041.2L723.8 2041.2" stroke="#0000ff" stroke-width="9" stroke-linecap="round"/>
<path d="M646.3 2025.7L661.8 2056.2L630.8 2056.2z" fill="#0000ff" stroke="#0000ff" stroke-width="3.5" stroke-linejoin="round"/>
<text transform="translate(741.10,2068.70) scale(1.0000,0.9950)" font-size="85.50" text-anchor="start">2-w-g-krw</text>
<path d="M1244.0 2041.2L1399.0 2041.2" stroke="#0000ff" stroke-width="9" stroke-linecap="round"/>
<path d="M1321.5 2023.2L1339.3 2059.2L1303.7 2059.2z" fill="none" stroke="#0000ff" stroke-width="4.4" stroke-linejoin="round"/>
<text transform="translate(1415.40,2068.70) scale(1.0000,0.9950)" font-size="85.50" text-anchor="start">2-w-g-krg</text>
<path d="M568.8 2150.5L723.8 2150.5" stroke="#000000" stroke-width="9" stroke-linecap="round" stroke-dasharray="27.5 37.2"/>
<circle cx="646.3" cy="2150.5" r="17.3" fill="#000000"/>
<text transform="translate(741.90,2178.00) scale(1.0000,0.9950)" font-size="85.50" text-anchor="start">3-g-w-krg</text>
<path d="M1244.0 2150.5L1399.0 2150.5" stroke="#000000" stroke-width="9" stroke-linecap="round" stroke-dasharray="0 18"/>
<circle cx="1321.5" cy="2150.5" r="14" fill="none" stroke="#000000" stroke-width="4.5"/>
<text transform="translate(1416.20,2178.00) scale(1.0000,0.9950)" font-size="85.50" text-anchor="start">3-g-w-krw</text>
<path d="M568.8 2259.5L723.8 2259.5" stroke="#000000" stroke-width="9" stroke-linecap="round"/>
<circle cx="646.3" cy="2259.5" r="17.3" fill="#000000"/>
<text transform="translate(741.90,2287.00) scale(1.0000,0.9950)" font-size="85.50" text-anchor="start">3-w-g-krw</text>
<path d="M1244.0 2259.5L1399.0 2259.5" stroke="#000000" stroke-width="9" stroke-linecap="round"/>
<circle cx="1321.5" cy="2259.5" r="14" fill="none" stroke="#000000" stroke-width="4.5"/>
<text transform="translate(1416.20,2287.00) scale(1.0000,0.9950)" font-size="85.50" text-anchor="start">3-w-g-krg</text>
<path d="M1424.7 2494.1 L1450.8 2554.3 L1471.2 2580.4 L1504.8 2636.4 L1541.1 2669.6 L1569.8 2680.4 L1604.8 2688.0 L1664.1 2695.0 L1723.7 2697.6 L1775.9 2699.5 L1806.5 2702.0 L1875.7 2716.4 L1978.5 2721.3 L2012.2 2724.9 L2047.0 2729.7" fill="none" stroke="#ff0000" stroke-width="9" stroke-linecap="round" stroke-linejoin="round" stroke-dasharray="21.7 41.1" stroke-dashoffset="36"/>
<path d="M1424.7 2476.1l18.0 18.0l-18.0 18.0l-18.0 -18.0z" fill="#ff0000" stroke="#ff0000" stroke-width="4" stroke-linejoin="round"/>
<path d="M1450.8 2536.3l18.0 18.0l-18.0 18.0l-18.0 -18.0z" fill="#ff0000" stroke="#ff0000" stroke-width="4" stroke-linejoin="round"/>
<path d="M1471.2 2562.4l18.0 18.0l-18.0 18.0l-18.0 -18.0z" fill="#ff0000" stroke="#ff0000" stroke-width="4" stroke-linejoin="round"/>
<path d="M1504.8 2618.4l18.0 18.0l-18.0 18.0l-18.0 -18.0z" fill="#ff0000" stroke="#ff0000" stroke-width="4" stroke-linejoin="round"/>
<path d="M1541.1 2651.6l18.0 18.0l-18.0 18.0l-18.0 -18.0z" fill="#ff0000" stroke="#ff0000" stroke-width="4" stroke-linejoin="round"/>
<path d="M1569.8 2662.4l18.0 18.0l-18.0 18.0l-18.0 -18.0z" fill="#ff0000" stroke="#ff0000" stroke-width="4" stroke-linejoin="round"/>
<path d="M1604.8 2670.0l18.0 18.0l-18.0 18.0l-18.0 -18.0z" fill="#ff0000" stroke="#ff0000" stroke-width="4" stroke-linejoin="round"/>
<path d="M1664.1 2677.0l18.0 18.0l-18.0 18.0l-18.0 -18.0z" fill="#ff0000" stroke="#ff0000" stroke-width="4" stroke-linejoin="round"/>
<path d="M1723.7 2679.6l18.0 18.0l-18.0 18.0l-18.0 -18.0z" fill="#ff0000" stroke="#ff0000" stroke-width="4" stroke-linejoin="round"/>
<path d="M1775.9 2681.5l18.0 18.0l-18.0 18.0l-18.0 -18.0z" fill="#ff0000" stroke="#ff0000" stroke-width="4" stroke-linejoin="round"/>
<path d="M1806.5 2684.0l18.0 18.0l-18.0 18.0l-18.0 -18.0z" fill="#ff0000" stroke="#ff0000" stroke-width="4" stroke-linejoin="round"/>
<path d="M1875.7 2698.4l18.0 18.0l-18.0 18.0l-18.0 -18.0z" fill="#ff0000" stroke="#ff0000" stroke-width="4" stroke-linejoin="round"/>
<path d="M1978.5 2703.3l18.0 18.0l-18.0 18.0l-18.0 -18.0z" fill="#ff0000" stroke="#ff0000" stroke-width="4" stroke-linejoin="round"/>
<path d="M2012.2 2706.9l18.0 18.0l-18.0 18.0l-18.0 -18.0z" fill="#ff0000" stroke="#ff0000" stroke-width="4" stroke-linejoin="round"/>
<path d="M2047.0 2711.7l18.0 18.0l-18.0 18.0l-18.0 -18.0z" fill="#ff0000" stroke="#ff0000" stroke-width="4" stroke-linejoin="round"/>
<path d="M1424.7 2727.0 L1450.8 2727.0 L1471.2 2726.0 L1504.8 2725.0 L1541.1 2712.0 L1569.8 2695.0 L1604.8 2674.6 L1664.1 2660.6 L1775.9 2616.0 L1806.5 2594.0 L1875.7 2492.7 L1978.5 2122.6 L2012.2 1909.6 L2047.0 1634.8" fill="none" stroke="#ff0000" stroke-width="9" stroke-linecap="round" stroke-linejoin="round" stroke-dasharray="0 18"/>
<path d="M1424.7 2709.4l17.6 17.6l-17.6 17.6l-17.6 -17.6z" fill="none" stroke="#ff0000" stroke-width="4.2" stroke-linejoin="miter"/>
<path d="M1450.8 2709.4l17.6 17.6l-17.6 17.6l-17.6 -17.6z" fill="none" stroke="#ff0000" stroke-width="4.2" stroke-linejoin="miter"/>
<path d="M1471.2 2708.4l17.6 17.6l-17.6 17.6l-17.6 -17.6z" fill="none" stroke="#ff0000" stroke-width="4.2" stroke-linejoin="miter"/>
<path d="M1504.8 2707.4l17.6 17.6l-17.6 17.6l-17.6 -17.6z" fill="none" stroke="#ff0000" stroke-width="4.2" stroke-linejoin="miter"/>
<path d="M1541.1 2694.4l17.6 17.6l-17.6 17.6l-17.6 -17.6z" fill="none" stroke="#ff0000" stroke-width="4.2" stroke-linejoin="miter"/>
<path d="M1569.8 2677.4l17.6 17.6l-17.6 17.6l-17.6 -17.6z" fill="none" stroke="#ff0000" stroke-width="4.2" stroke-linejoin="miter"/>
<path d="M1604.8 2657.0l17.6 17.6l-17.6 17.6l-17.6 -17.6z" fill="none" stroke="#ff0000" stroke-width="4.2" stroke-linejoin="miter"/>
<path d="M1664.1 2643.0l17.6 17.6l-17.6 17.6l-17.6 -17.6z" fill="none" stroke="#ff0000" stroke-width="4.2" stroke-linejoin="miter"/>
<path d="M1775.9 2598.4l17.6 17.6l-17.6 17.6l-17.6 -17.6z" fill="none" stroke="#ff0000" stroke-width="4.2" stroke-linejoin="miter"/>
<path d="M1806.5 2576.4l17.6 17.6l-17.6 17.6l-17.6 -17.6z" fill="none" stroke="#ff0000" stroke-width="4.2" stroke-linejoin="miter"/>
<path d="M1875.7 2475.1l17.6 17.6l-17.6 17.6l-17.6 -17.6z" fill="none" stroke="#ff0000" stroke-width="4.2" stroke-linejoin="miter"/>
<path d="M1978.5 2105.0l17.6 17.6l-17.6 17.6l-17.6 -17.6z" fill="none" stroke="#ff0000" stroke-width="4.2" stroke-linejoin="miter"/>
<path d="M2012.2 1892.0l17.6 17.6l-17.6 17.6l-17.6 -17.6z" fill="none" stroke="#ff0000" stroke-width="4.2" stroke-linejoin="miter"/>
<path d="M2047.0 1617.2l17.6 17.6l-17.6 17.6l-17.6 -17.6z" fill="none" stroke="#ff0000" stroke-width="4.2" stroke-linejoin="miter"/>
<path d="M1467.0 2729.0 L1505.0 2728.0 L1541.0 2726.0 L1605.0 2715.0 L1664.0 2690.0 L1730.0 2662.0 L1776.0 2640.0 L1816.2 2612.4 L1836.8 2590.6 L1857.3 2566.4 L1866.0 2541.0" fill="none" stroke="#ff0000" stroke-width="9" stroke-linecap="round" stroke-linejoin="round"/>
<path d="M1467.0 2711.0l18.0 18.0l-18.0 18.0l-18.0 -18.0z" fill="#ff0000" stroke="#ff0000" stroke-width="4" stroke-linejoin="round"/>
<path d="M1505.0 2710.0l18.0 18.0l-18.0 18.0l-18.0 -18.0z" fill="#ff0000" stroke="#ff0000" stroke-width="4" stroke-linejoin="round"/>
<path d="M1541.0 2708.0l18.0 18.0l-18.0 18.0l-18.0 -18.0z" fill="#ff0000" stroke="#ff0000" stroke-width="4" stroke-linejoin="round"/>
<path d="M1605.0 2697.0l18.0 18.0l-18.0 18.0l-18.0 -18.0z" fill="#ff0000" stroke="#ff0000" stroke-width="4" stroke-linejoin="round"/>
<path d="M1664.0 2672.0l18.0 18.0l-18.0 18.0l-18.0 -18.0z" fill="#ff0000" stroke="#ff0000" stroke-width="4" stroke-linejoin="round"/>
<path d="M1730.0 2644.0l18.0 18.0l-18.0 18.0l-18.0 -18.0z" fill="#ff0000" stroke="#ff0000" stroke-width="4" stroke-linejoin="round"/>
<path d="M1776.0 2622.0l18.0 18.0l-18.0 18.0l-18.0 -18.0z" fill="#ff0000" stroke="#ff0000" stroke-width="4" stroke-linejoin="round"/>
<path d="M1816.2 2594.4l18.0 18.0l-18.0 18.0l-18.0 -18.0z" fill="#ff0000" stroke="#ff0000" stroke-width="4" stroke-linejoin="round"/>
<path d="M1836.8 2572.6l18.0 18.0l-18.0 18.0l-18.0 -18.0z" fill="#ff0000" stroke="#ff0000" stroke-width="4" stroke-linejoin="round"/>
<path d="M1857.3 2548.4l18.0 18.0l-18.0 18.0l-18.0 -18.0z" fill="#ff0000" stroke="#ff0000" stroke-width="4" stroke-linejoin="round"/>
<path d="M1866.0 2523.0l18.0 18.0l-18.0 18.0l-18.0 -18.0z" fill="#ff0000" stroke="#ff0000" stroke-width="4" stroke-linejoin="round"/>
<path d="M1447.8 2553.7 C1451.0 2560.8 1457.5 2580.8 1467.0 2596.0 C1476.5 2611.2 1492.7 2633.0 1505.0 2645.0 C1517.3 2657.0 1524.3 2662.2 1541.0 2668.0 C1557.7 2673.8 1584.5 2674.7 1605.0 2680.0 C1625.5 2685.3 1643.2 2694.7 1664.0 2700.0 C1684.8 2705.3 1711.3 2709.3 1730.0 2712.0 C1748.7 2714.7 1761.6 2714.7 1776.0 2716.0 C1790.4 2717.3 1806.1 2719.0 1816.2 2720.0 C1826.3 2721.0 1830.0 2721.3 1836.8 2722.0 C1843.6 2722.7 1852.4 2723.3 1857.3 2724.0 C1862.2 2724.7 1864.5 2725.7 1866.0 2726.0" fill="none" stroke="#ff0000" stroke-width="9" stroke-linecap="round" stroke-linejoin="round"/>
<path d="M1447.8 2536.1l17.6 17.6l-17.6 17.6l-17.6 -17.6z" fill="none" stroke="#ff0000" stroke-width="4.2" stroke-linejoin="miter"/>
<path d="M1467.0 2578.4l17.6 17.6l-17.6 17.6l-17.6 -17.6z" fill="none" stroke="#ff0000" stroke-width="4.2" stroke-linejoin="miter"/>
<path d="M1505.0 2627.4l17.6 17.6l-17.6 17.6l-17.6 -17.6z" fill="none" stroke="#ff0000" stroke-width="4.2" stroke-linejoin="miter"/>
<path d="M1541.0 2650.4l17.6 17.6l-17.6 17.6l-17.6 -17.6z" fill="none" stroke="#ff0000" stroke-width="4.2" stroke-linejoin="miter"/>
<path d="M1605.0 2662.4l17.6 17.6l-17.6 17.6l-17.6 -17.6z" fill="none" stroke="#ff0000" stroke-width="4.2" stroke-linejoin="miter"/>
<path d="M1664.0 2682.4l17.6 17.6l-17.6 17.6l-17.6 -17.6z" fill="none" stroke="#ff0000" stroke-width="4.2" stroke-linejoin="miter"/>
<path d="M1730.0 2694.4l17.6 17.6l-17.6 17.6l-17.6 -17.6z" fill="none" stroke="#ff0000" stroke-width="4.2" stroke-linejoin="miter"/>
<path d="M1776.0 2698.4l17.6 17.6l-17.6 17.6l-17.6 -17.6z" fill="none" stroke="#ff0000" stroke-width="4.2" stroke-linejoin="miter"/>
<path d="M1816.2 2702.4l17.6 17.6l-17.6 17.6l-17.6 -17.6z" fill="none" stroke="#ff0000" stroke-width="4.2" stroke-linejoin="miter"/>
<path d="M1836.8 2704.4l17.6 17.6l-17.6 17.6l-17.6 -17.6z" fill="none" stroke="#ff0000" stroke-width="4.2" stroke-linejoin="miter"/>
<path d="M1857.3 2706.4l17.6 17.6l-17.6 17.6l-17.6 -17.6z" fill="none" stroke="#ff0000" stroke-width="4.2" stroke-linejoin="miter"/>
<path d="M1866.0 2708.4l17.6 17.6l-17.6 17.6l-17.6 -17.6z" fill="none" stroke="#ff0000" stroke-width="4.2" stroke-linejoin="miter"/>
<path d="M1447.8 2535.7l18.0 18.0l-18.0 18.0l-18.0 -18.0z" fill="#ff0000" stroke="#ff0000" stroke-width="4" stroke-linejoin="round"/>
<path d="M1396.0 2597.0 L1412.6 2606.0 L1431.7 2623.8 L1457.2 2644.0 L1476.3 2657.5 L1501.1 2673.4 L1517.6 2683.6 L1540.5 2695.5 L1573.6 2702.5 L1595.3 2704.4 L1650.0 2712.0 L1681.7 2716.0 L1709.7 2720.0 L1757.5 2724.0 L1865.8 2731.0" fill="none" stroke="#0000ff" stroke-width="9" stroke-linecap="round" stroke-linejoin="round" stroke-dasharray="21.7 41.1" stroke-dashoffset="36"/>
<path d="M1396.0 2581.5L1411.5 2612.0L1380.5 2612.0z" fill="#0000ff" stroke="#0000ff" stroke-width="3.5" stroke-linejoin="round"/>
<path d="M1412.6 2590.5L1428.1 2621.0L1397.1 2621.0z" fill="#0000ff" stroke="#0000ff" stroke-width="3.5" stroke-linejoin="round"/>
<path d="M1431.7 2608.3L1447.2 2638.8L1416.2 2638.8z" fill="#0000ff" stroke="#0000ff" stroke-width="3.5" stroke-linejoin="round"/>
<path d="M1457.2 2628.5L1472.7 2659.0L1441.7 2659.0z" fill="#0000ff" stroke="#0000ff" stroke-width="3.5" stroke-linejoin="round"/>
<path d="M1476.3 2642.0L1491.8 2672.5L1460.8 2672.5z" fill="#0000ff" stroke="#0000ff" stroke-width="3.5" stroke-linejoin="round"/>
<path d="M1501.1 2657.9L1516.6 2688.4L1485.6 2688.4z" fill="#0000ff" stroke="#0000ff" stroke-width="3.5" stroke-linejoin="round"/>
<path d="M1517.6 2668.1L1533.1 2698.6L1502.1 2698.6z" fill="#0000ff" stroke="#0000ff" stroke-width="3.5" stroke-linejoin="round"/>
<path d="M1540.5 2680.0L1556.0 2710.5L1525.0 2710.5z" fill="#0000ff" stroke="#0000ff" stroke-width="3.5" stroke-linejoin="round"/>
<path d="M1573.6 2687.0L1589.1 2717.5L1558.1 2717.5z" fill="#0000ff" stroke="#0000ff" stroke-width="3.5" stroke-linejoin="round"/>
<path d="M1595.3 2688.9L1610.8 2719.4L1579.8 2719.4z" fill="#0000ff" stroke="#0000ff" stroke-width="3.5" stroke-linejoin="round"/>
<path d="M1650.0 2696.5L1665.5 2727.0L1634.5 2727.0z" fill="#0000ff" stroke="#0000ff" stroke-width="3.5" stroke-linejoin="round"/>
<path d="M1681.7 2700.5L1697.2 2731.0L1666.2 2731.0z" fill="#0000ff" stroke="#0000ff" stroke-width="3.5" stroke-linejoin="round"/>
<path d="M1709.7 2704.5L1725.2 2735.0L1694.2 2735.0z" fill="#0000ff" stroke="#0000ff" stroke-width="3.5" stroke-linejoin="round"/>
<path d="M1757.5 2708.5L1773.0 2739.0L1742.0 2739.0z" fill="#0000ff" stroke="#0000ff" stroke-width="3.5" stroke-linejoin="round"/>
<path d="M1865.8 2715.5L1881.3 2746.0L1850.3 2746.0z" fill="#0000ff" stroke="#0000ff" stroke-width="3.5" stroke-linejoin="round"/>
<path d="M1396.0 2728.0 L1412.6 2728.0 L1431.7 2728.0 L1457.2 2728.0 L1476.3 2727.0 L1501.1 2726.0 L1517.6 2726.0 L1540.5 2724.0 L1573.6 2722.0 L1595.3 2718.0 L1650.0 2700.0 L1681.7 2676.0 L1709.7 2668.0 L1757.5 2642.0 L1865.8 2539.0" fill="none" stroke="#0000ff" stroke-width="9" stroke-linecap="round" stroke-linejoin="round" stroke-dasharray="0 18"/>
<path d="M1396.0 2710.0L1413.8 2746.0L1378.2 2746.0z" fill="none" stroke="#0000ff" stroke-width="4.4" stroke-linejoin="round"/>
<path d="M1412.6 2710.0L1430.4 2746.0L1394.8 2746.0z" fill="none" stroke="#0000ff" stroke-width="4.4" stroke-linejoin="round"/>
<path d="M1431.7 2710.0L1449.5 2746.0L1413.9 2746.0z" fill="none" stroke="#0000ff" stroke-width="4.4" stroke-linejoin="round"/>
<path d="M1457.2 2710.0L1475.0 2746.0L1439.4 2746.0z" fill="none" stroke="#0000ff" stroke-width="4.4" stroke-linejoin="round"/>
<path d="M1476.3 2709.0L1494.1 2745.0L1458.5 2745.0z" fill="none" stroke="#0000ff" stroke-width="4.4" stroke-linejoin="round"/>
<path d="M1501.1 2708.0L1518.9 2744.0L1483.3 2744.0z" fill="none" stroke="#0000ff" stroke-width="4.4" stroke-linejoin="round"/>
<path d="M1517.6 2708.0L1535.4 2744.0L1499.8 2744.0z" fill="none" stroke="#0000ff" stroke-width="4.4" stroke-linejoin="round"/>
<path d="M1540.5 2706.0L1558.3 2742.0L1522.7 2742.0z" fill="none" stroke="#0000ff" stroke-width="4.4" stroke-linejoin="round"/>
<path d="M1573.6 2704.0L1591.4 2740.0L1555.8 2740.0z" fill="none" stroke="#0000ff" stroke-width="4.4" stroke-linejoin="round"/>
<path d="M1595.3 2700.0L1613.1 2736.0L1577.5 2736.0z" fill="none" stroke="#0000ff" stroke-width="4.4" stroke-linejoin="round"/>
<path d="M1650.0 2682.0L1667.8 2718.0L1632.2 2718.0z" fill="none" stroke="#0000ff" stroke-width="4.4" stroke-linejoin="round"/>
<path d="M1681.7 2658.0L1699.5 2694.0L1663.9 2694.0z" fill="none" stroke="#0000ff" stroke-width="4.4" stroke-linejoin="round"/>
<path d="M1709.7 2650.0L1727.5 2686.0L1691.9 2686.0z" fill="none" stroke="#0000ff" stroke-width="4.4" stroke-linejoin="round"/>
<path d="M1757.5 2624.0L1775.3 2660.0L1739.7 2660.0z" fill="none" stroke="#0000ff" stroke-width="4.4" stroke-linejoin="round"/>
<path d="M1865.8 2521.0L1883.6 2557.0L1848.0 2557.0z" fill="none" stroke="#0000ff" stroke-width="4.4" stroke-linejoin="round"/>
<path d="M1396.0 2728.0 L1412.6 2727.0 L1431.7 2726.0 L1457.2 2726.0 L1476.3 2725.0 L1501.1 2722.0 L1540.0 2715.0 L1575.0 2705.0 L1610.6 2693.6 L1650.0 2685.0 L1690.0 2676.0 L1730.0 2665.0 L1760.0 2658.0 L1785.0 2652.0" fill="none" stroke="#0000ff" stroke-width="9" stroke-linecap="round" stroke-linejoin="round"/>
<path d="M1396.0 2712.5L1411.5 2743.0L1380.5 2743.0z" fill="#0000ff" stroke="#0000ff" stroke-width="3.5" stroke-linejoin="round"/>
<path d="M1412.6 2711.5L1428.1 2742.0L1397.1 2742.0z" fill="#0000ff" stroke="#0000ff" stroke-width="3.5" stroke-linejoin="round"/>
<path d="M1431.7 2710.5L1447.2 2741.0L1416.2 2741.0z" fill="#0000ff" stroke="#0000ff" stroke-width="3.5" stroke-linejoin="round"/>
<path d="M1457.2 2710.5L1472.7 2741.0L1441.7 2741.0z" fill="#0000ff" stroke="#0000ff" stroke-width="3.5" stroke-linejoin="round"/>
<path d="M1476.3 2709.5L1491.8 2740.0L1460.8 2740.0z" fill="#0000ff" stroke="#0000ff" stroke-width="3.5" stroke-linejoin="round"/>
<path d="M1501.1 2706.5L1516.6 2737.0L1485.6 2737.0z" fill="#0000ff" stroke="#0000ff" stroke-width="3.5" stroke-linejoin="round"/>
<path d="M1540.0 2699.5L1555.5 2730.0L1524.5 2730.0z" fill="#0000ff" stroke="#0000ff" stroke-width="3.5" stroke-linejoin="round"/>
<path d="M1575.0 2689.5L1590.5 2720.0L1559.5 2720.0z" fill="#0000ff" stroke="#0000ff" stroke-width="3.5" stroke-linejoin="round"/>
<path d="M1610.6 2678.1L1626.1 2708.6L1595.1 2708.6z" fill="#0000ff" stroke="#0000ff" stroke-width="3.5" stroke-linejoin="round"/>
<path d="M1650.0 2669.5L1665.5 2700.0L1634.5 2700.0z" fill="#0000ff" stroke="#0000ff" stroke-width="3.5" stroke-linejoin="round"/>
<path d="M1690.0 2660.5L1705.5 2691.0L1674.5 2691.0z" fill="#0000ff" stroke="#0000ff" stroke-width="3.5" stroke-linejoin="round"/>
<path d="M1730.0 2649.5L1745.5 2680.0L1714.5 2680.0z" fill="#0000ff" stroke="#0000ff" stroke-width="3.5" stroke-linejoin="round"/>
<path d="M1760.0 2642.5L1775.5 2673.0L1744.5 2673.0z" fill="#0000ff" stroke="#0000ff" stroke-width="3.5" stroke-linejoin="round"/>
<path d="M1785.0 2636.5L1800.5 2667.0L1769.5 2667.0z" fill="#0000ff" stroke="#0000ff" stroke-width="3.5" stroke-linejoin="round"/>
<path d="M1396.0 2600.0 L1412.6 2610.0 L1431.7 2628.0 L1457.2 2648.0 L1476.3 2661.0 L1501.1 2676.0 L1540.0 2695.0 L1575.0 2705.0 L1610.6 2712.0 L1650.0 2718.0 L1690.0 2722.0 L1730.0 2724.0 L1760.0 2726.0 L1785.0 2728.0" fill="none" stroke="#0000ff" stroke-width="9" stroke-linecap="round" stroke-linejoin="round"/>
<path d="M1396.0 2582.0L1413.8 2618.0L1378.2 2618.0z" fill="none" stroke="#0000ff" stroke-width="4.4" stroke-linejoin="round"/>
<path d="M1412.6 2592.0L1430.4 2628.0L1394.8 2628.0z" fill="none" stroke="#0000ff" stroke-width="4.4" stroke-linejoin="round"/>
<path d="M1431.7 2610.0L1449.5 2646.0L1413.9 2646.0z" fill="none" stroke="#0000ff" stroke-width="4.4" stroke-linejoin="round"/>
<path d="M1457.2 2630.0L1475.0 2666.0L1439.4 2666.0z" fill="none" stroke="#0000ff" stroke-width="4.4" stroke-linejoin="round"/>
<path d="M1476.3 2643.0L1494.1 2679.0L1458.5 2679.0z" fill="none" stroke="#0000ff" stroke-width="4.4" stroke-linejoin="round"/>
<path d="M1501.1 2658.0L1518.9 2694.0L1483.3 2694.0z" fill="none" stroke="#0000ff" stroke-width="4.4" stroke-linejoin="round"/>
<path d="M1540.0 2677.0L1557.8 2713.0L1522.2 2713.0z" fill="none" stroke="#0000ff" stroke-width="4.4" stroke-linejoin="round"/>
<path d="M1575.0 2687.0L1592.8 2723.0L1557.2 2723.0z" fill="none" stroke="#0000ff" stroke-width="4.4" stroke-linejoin="round"/>
<path d="M1610.6 2694.0L1628.4 2730.0L1592.8 2730.0z" fill="none" stroke="#0000ff" stroke-width="4.4" stroke-linejoin="round"/>
<path d="M1650.0 2700.0L1667.8 2736.0L1632.2 2736.0z" fill="none" stroke="#0000ff" stroke-width="4.4" stroke-linejoin="round"/>
<path d="M1690.0 2704.0L1707.8 2740.0L1672.2 2740.0z" fill="none" stroke="#0000ff" stroke-width="4.4" stroke-linejoin="round"/>
<path d="M1730.0 2706.0L1747.8 2742.0L1712.2 2742.0z" fill="none" stroke="#0000ff" stroke-width="4.4" stroke-linejoin="round"/>
<path d="M1760.0 2708.0L1777.8 2744.0L1742.2 2744.0z" fill="none" stroke="#0000ff" stroke-width="4.4" stroke-linejoin="round"/>
<path d="M1785.0 2710.0L1802.8 2746.0L1767.2 2746.0z" fill="none" stroke="#0000ff" stroke-width="4.4" stroke-linejoin="round"/>
<path d="M1373.8 2606.1 L1448.3 2665.4 L1468.7 2678.1 L1545.0 2712.9 L1580.6 2712.0 L1616.3 2728.2 L1643.0 2729.4 L1702.0 2729.4 L1731.3 2730.7 L1756.8 2730.7 L1777.2 2730.7 L1800.1 2729.4" fill="none" stroke="#000000" stroke-width="9" stroke-linecap="round" stroke-linejoin="round" stroke-dasharray="21.7 41.1" stroke-dashoffset="36"/>
<circle cx="1373.8" cy="2606.1" r="17.3" fill="#000000"/>
<circle cx="1448.3" cy="2665.4" r="17.3" fill="#000000"/>
<circle cx="1468.7" cy="2678.1" r="17.3" fill="#000000"/>
<circle cx="1545.0" cy="2712.9" r="17.3" fill="#000000"/>
<circle cx="1580.6" cy="2712.0" r="17.3" fill="#000000"/>
<circle cx="1616.3" cy="2728.2" r="17.3" fill="#000000"/>
<circle cx="1643.0" cy="2729.4" r="17.3" fill="#000000"/>
<circle cx="1702.0" cy="2729.4" r="17.3" fill="#000000"/>
<circle cx="1731.3" cy="2730.7" r="17.3" fill="#000000"/>
<circle cx="1756.8" cy="2730.7" r="17.3" fill="#000000"/>
<circle cx="1777.2" cy="2730.7" r="17.3" fill="#000000"/>
<circle cx="1800.1" cy="2729.4" r="17.3" fill="#000000"/>
<path d="M1373.8 2729.0 L1448.3 2726.5 L1468.7 2726.5 L1545.0 2726.0 L1580.6 2724.0 L1616.3 2697.6 L1643.0 2691.2 L1702.0 2670.8 L1731.3 2661.9 L1756.8 2649.2 L1777.2 2641.5 L1800.1 2632.6" fill="none" stroke="#000000" stroke-width="9" stroke-linecap="round" stroke-linejoin="round" stroke-dasharray="0 18"/>
<circle cx="1373.8" cy="2729.0" r="14" fill="none" stroke="#000000" stroke-width="4.5"/>
<circle cx="1448.3" cy="2726.5" r="14" fill="none" stroke="#000000" stroke-width="4.5"/>
<circle cx="1468.7" cy="2726.5" r="14" fill="none" stroke="#000000" stroke-width="4.5"/>
<circle cx="1545.0" cy="2726.0" r="14" fill="none" stroke="#000000" stroke-width="4.5"/>
<circle cx="1580.6" cy="2724.0" r="14" fill="none" stroke="#000000" stroke-width="4.5"/>
<circle cx="1616.3" cy="2697.6" r="14" fill="none" stroke="#000000" stroke-width="4.5"/>
<circle cx="1643.0" cy="2691.2" r="14" fill="none" stroke="#000000" stroke-width="4.5"/>
<circle cx="1702.0" cy="2670.8" r="14" fill="none" stroke="#000000" stroke-width="4.5"/>
<circle cx="1731.3" cy="2661.9" r="14" fill="none" stroke="#000000" stroke-width="4.5"/>
<circle cx="1756.8" cy="2649.2" r="14" fill="none" stroke="#000000" stroke-width="4.5"/>
<circle cx="1777.2" cy="2641.5" r="14" fill="none" stroke="#000000" stroke-width="4.5"/>
<circle cx="1800.1" cy="2632.6" r="14" fill="none" stroke="#000000" stroke-width="4.5"/>
<path d="M1373.8 2729.0 L1399.9 2729.0 L1425.4 2729.0 L1482.7 2726.5 L1545.0 2722.0 L1581.9 2715.0 L1616.0 2705.0 L1652.0 2692.5 L1676.2 2686.1 L1703.3 2685.5 L1736.4 2674.0 L1767.0 2660.6 L1782.3 2656.8" fill="none" stroke="#000000" stroke-width="9" stroke-linecap="round" stroke-linejoin="round"/>
<circle cx="1373.8" cy="2729.0" r="17.3" fill="#000000"/>
<circle cx="1399.9" cy="2729.0" r="17.3" fill="#000000"/>
<circle cx="1425.4" cy="2729.0" r="17.3" fill="#000000"/>
<circle cx="1482.7" cy="2726.5" r="17.3" fill="#000000"/>
<circle cx="1545.0" cy="2722.0" r="17.3" fill="#000000"/>
<circle cx="1581.9" cy="2715.0" r="17.3" fill="#000000"/>
<circle cx="1616.0" cy="2705.0" r="17.3" fill="#000000"/>
<circle cx="1652.0" cy="2692.5" r="17.3" fill="#000000"/>
<circle cx="1676.2" cy="2686.1" r="17.3" fill="#000000"/>
<circle cx="1703.3" cy="2685.5" r="17.3" fill="#000000"/>
<circle cx="1736.4" cy="2674.0" r="17.3" fill="#000000"/>
<circle cx="1767.0" cy="2660.6" r="17.3" fill="#000000"/>
<circle cx="1782.3" cy="2656.8" r="17.3" fill="#000000"/>
<path d="M1373.8 2606.1 C1378.2 2610.8 1391.3 2625.5 1399.9 2634.1 C1408.5 2642.7 1411.6 2647.0 1425.4 2657.7 C1439.2 2668.4 1462.8 2687.0 1482.7 2698.5 C1502.6 2710.0 1528.5 2721.1 1545.0 2726.9 C1561.5 2732.7 1570.1 2732.8 1581.9 2733.2 C1593.7 2733.5 1604.3 2729.9 1616.0 2729.0 C1627.7 2728.1 1642.0 2728.2 1652.0 2728.0 C1662.0 2727.8 1667.7 2728.0 1676.2 2728.0 C1684.8 2728.0 1693.3 2728.0 1703.3 2728.0 C1713.3 2728.0 1725.8 2728.0 1736.4 2728.0 C1747.0 2728.0 1759.3 2728.0 1767.0 2728.0 C1774.7 2728.0 1779.8 2728.0 1782.3 2728.0" fill="none" stroke="#000000" stroke-width="9" stroke-linecap="round" stroke-linejoin="round"/>
<circle cx="1373.8" cy="2606.1" r="14" fill="none" stroke="#000000" stroke-width="4.5"/>
<circle cx="1399.9" cy="2634.1" r="14" fill="none" stroke="#000000" stroke-width="4.5"/>
<circle cx="1425.4" cy="2657.7" r="14" fill="none" stroke="#000000" stroke-width="4.5"/>
<circle cx="1482.7" cy="2698.5" r="14" fill="none" stroke="#000000" stroke-width="4.5"/>
<circle cx="1545.0" cy="2726.9" r="14" fill="none" stroke="#000000" stroke-width="4.5"/>
<circle cx="1581.9" cy="2733.2" r="14" fill="none" stroke="#000000" stroke-width="4.5"/>
<circle cx="1616.0" cy="2729.0" r="14" fill="none" stroke="#000000" stroke-width="4.5"/>
<circle cx="1652.0" cy="2728.0" r="14" fill="none" stroke="#000000" stroke-width="4.5"/>
<circle cx="1676.2" cy="2728.0" r="14" fill="none" stroke="#000000" stroke-width="4.5"/>
<circle cx="1703.3" cy="2728.0" r="14" fill="none" stroke="#000000" stroke-width="4.5"/>
<circle cx="1736.4" cy="2728.0" r="14" fill="none" stroke="#000000" stroke-width="4.5"/>
<circle cx="1767.0" cy="2728.0" r="14" fill="none" stroke="#000000" stroke-width="4.5"/>
<circle cx="1782.3" cy="2728.0" r="14" fill="none" stroke="#000000" stroke-width="4.5"/>
</svg></body></html>
